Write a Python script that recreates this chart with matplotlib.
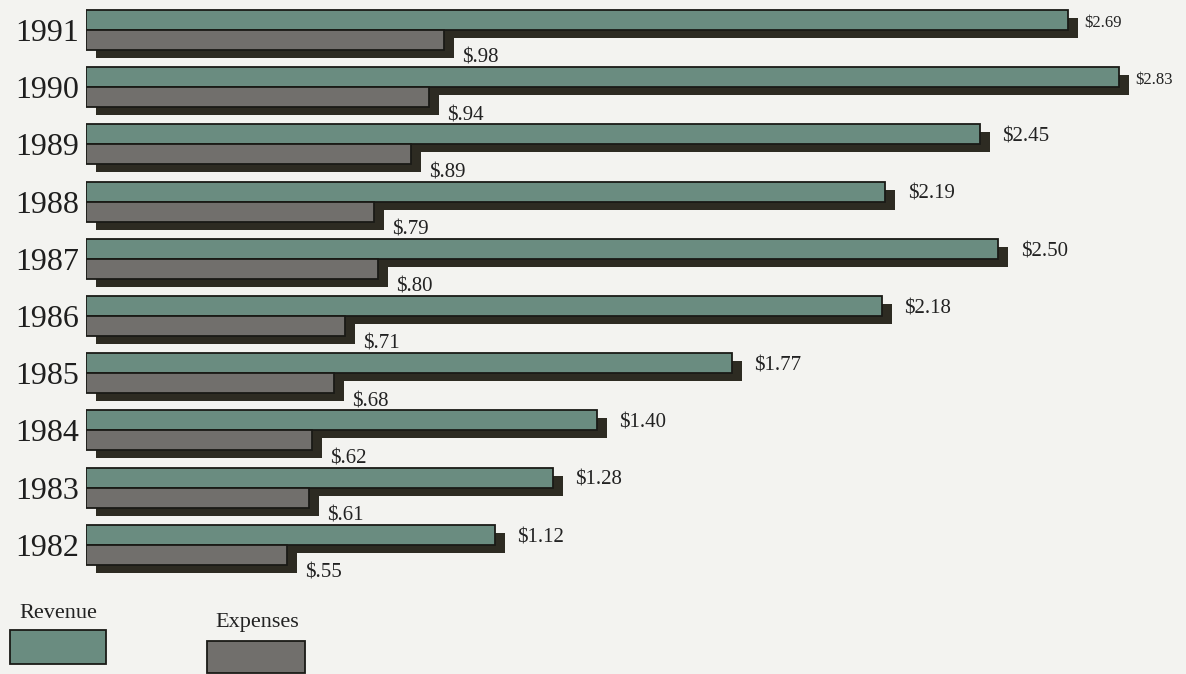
import matplotlib
matplotlib.use("Agg")
import matplotlib.pyplot as plt
import matplotlib.patheffects as pe
from matplotlib.patches import Rectangle

# Annual figures, most recent year first (billions of dollars)
years = ["1991", "1990", "1989", "1988", "1987", "1986", "1985", "1984", "1983", "1982"]
revenue = [2.69, 2.83, 2.45, 2.19, 2.50, 2.18, 1.77, 1.40, 1.28, 1.12]
expenses = [0.98, 0.94, 0.89, 0.79, 0.80, 0.71, 0.68, 0.62, 0.61, 0.55]
revenue_labels = ["$2.69", "$2.83", "$2.45", "$2.19", "$2.50", "$2.18", "$1.77", "$1.40", "$1.28", "$1.12"]
expense_labels = ["$.98", "$.94", "$.89", "$.79", "$.80", "$.71", "$.68", "$.62", "$.61", "$.55"]
series_names = ["Revenue", "Expenses"]

REV_COLOR = "#6a8c80"
EXP_COLOR = "#716f6c"
SHADOW = "#2d2b22"
EDGE = "#1a1a16"
BG = "#f3f3f0"
SERIF = ["Liberation Serif", "DejaVu Serif"]

W, H = 1186, 674
fig = plt.figure(figsize=(W / 100, H / 100), dpi=100, facecolor=BG)

left_px = 86
px_per_unit = 365.0
row_px = 57.2
ax = fig.add_axes([left_px / W, 0, 1 - left_px / W, 1])
ax.set_facecolor(BG)
ax.set_xlim(0, (W - left_px) / px_per_unit)
ax.set_ylim(H / row_px, 0)

bar_h = 20 / row_px
top_off = 10 / row_px
rows = list(range(len(years)))
rev_y = [i + top_off + bar_h / 2 for i in rows]
exp_y = [i + top_off + bar_h * 1.5 for i in rows]

shadow = [pe.SimplePatchShadow(offset=(7.2, -5.8), shadow_rgbFace=SHADOW, alpha=1.0), pe.Normal()]

rev_bars = ax.barh(rev_y, revenue, height=bar_h, color=REV_COLOR,
                   edgecolor=EDGE, linewidth=1.3, zorder=2)
exp_bars = ax.barh(exp_y, expenses, height=bar_h, color=EXP_COLOR,
                   edgecolor=EDGE, linewidth=1.3, zorder=3)
for b in list(rev_bars) + list(exp_bars):
    b.set_path_effects(shadow)

# Value labels
for i in rows:
    if i < 2:
        size, gap = 12, 12
    else:
        size, gap = 15, 16
    ax.annotate(revenue_labels[i], (revenue[i], rev_y[i]), xytext=(gap, -2),
                textcoords="offset points", ha="left", va="center",
                fontsize=size, family=SERIF, color="#222222", zorder=5)
    ax.annotate(expense_labels[i], (expenses[i], exp_y[i] + bar_h / 2), xytext=(13, -6),
                textcoords="offset points", ha="left", va="center",
                fontsize=15, family=SERIF, color="#222222", zorder=5)

# Year labels on the category axis
ax.set_yticks([i + top_off + bar_h for i in rows])
ax.set_yticklabels(years, family=SERIF, fontsize=23, color="#1e1e1e")
ax.tick_params(axis="y", length=0, pad=5)
ax.set_xticks([])
for s in ax.spines.values():
    s.set_visible(False)

# Legend: caption above a swatch for each series
def fig_rect(x0, y0, x1, y1, color):
    fig.patches.append(Rectangle((x0 / W, 1 - y1 / H), (x1 - x0) / W, (y1 - y0) / H,
                                 transform=fig.transFigure, facecolor=color,
                                 edgecolor=EDGE, linewidth=1.3))

fig_rect(10, 630, 106, 664, REV_COLOR)
fig_rect(207, 641, 305, 673, EXP_COLOR)
fig.text(58 / W, 1 - 614 / H, series_names[0], ha="center", va="center",
         family=SERIF, fontsize=16, color="#222222")
fig.text(257 / W, 1 - 622 / H, series_names[1], ha="center", va="center",
         family=SERIF, fontsize=16, color="#222222")

fig.savefig("out.png", dpi=100, facecolor=BG)
